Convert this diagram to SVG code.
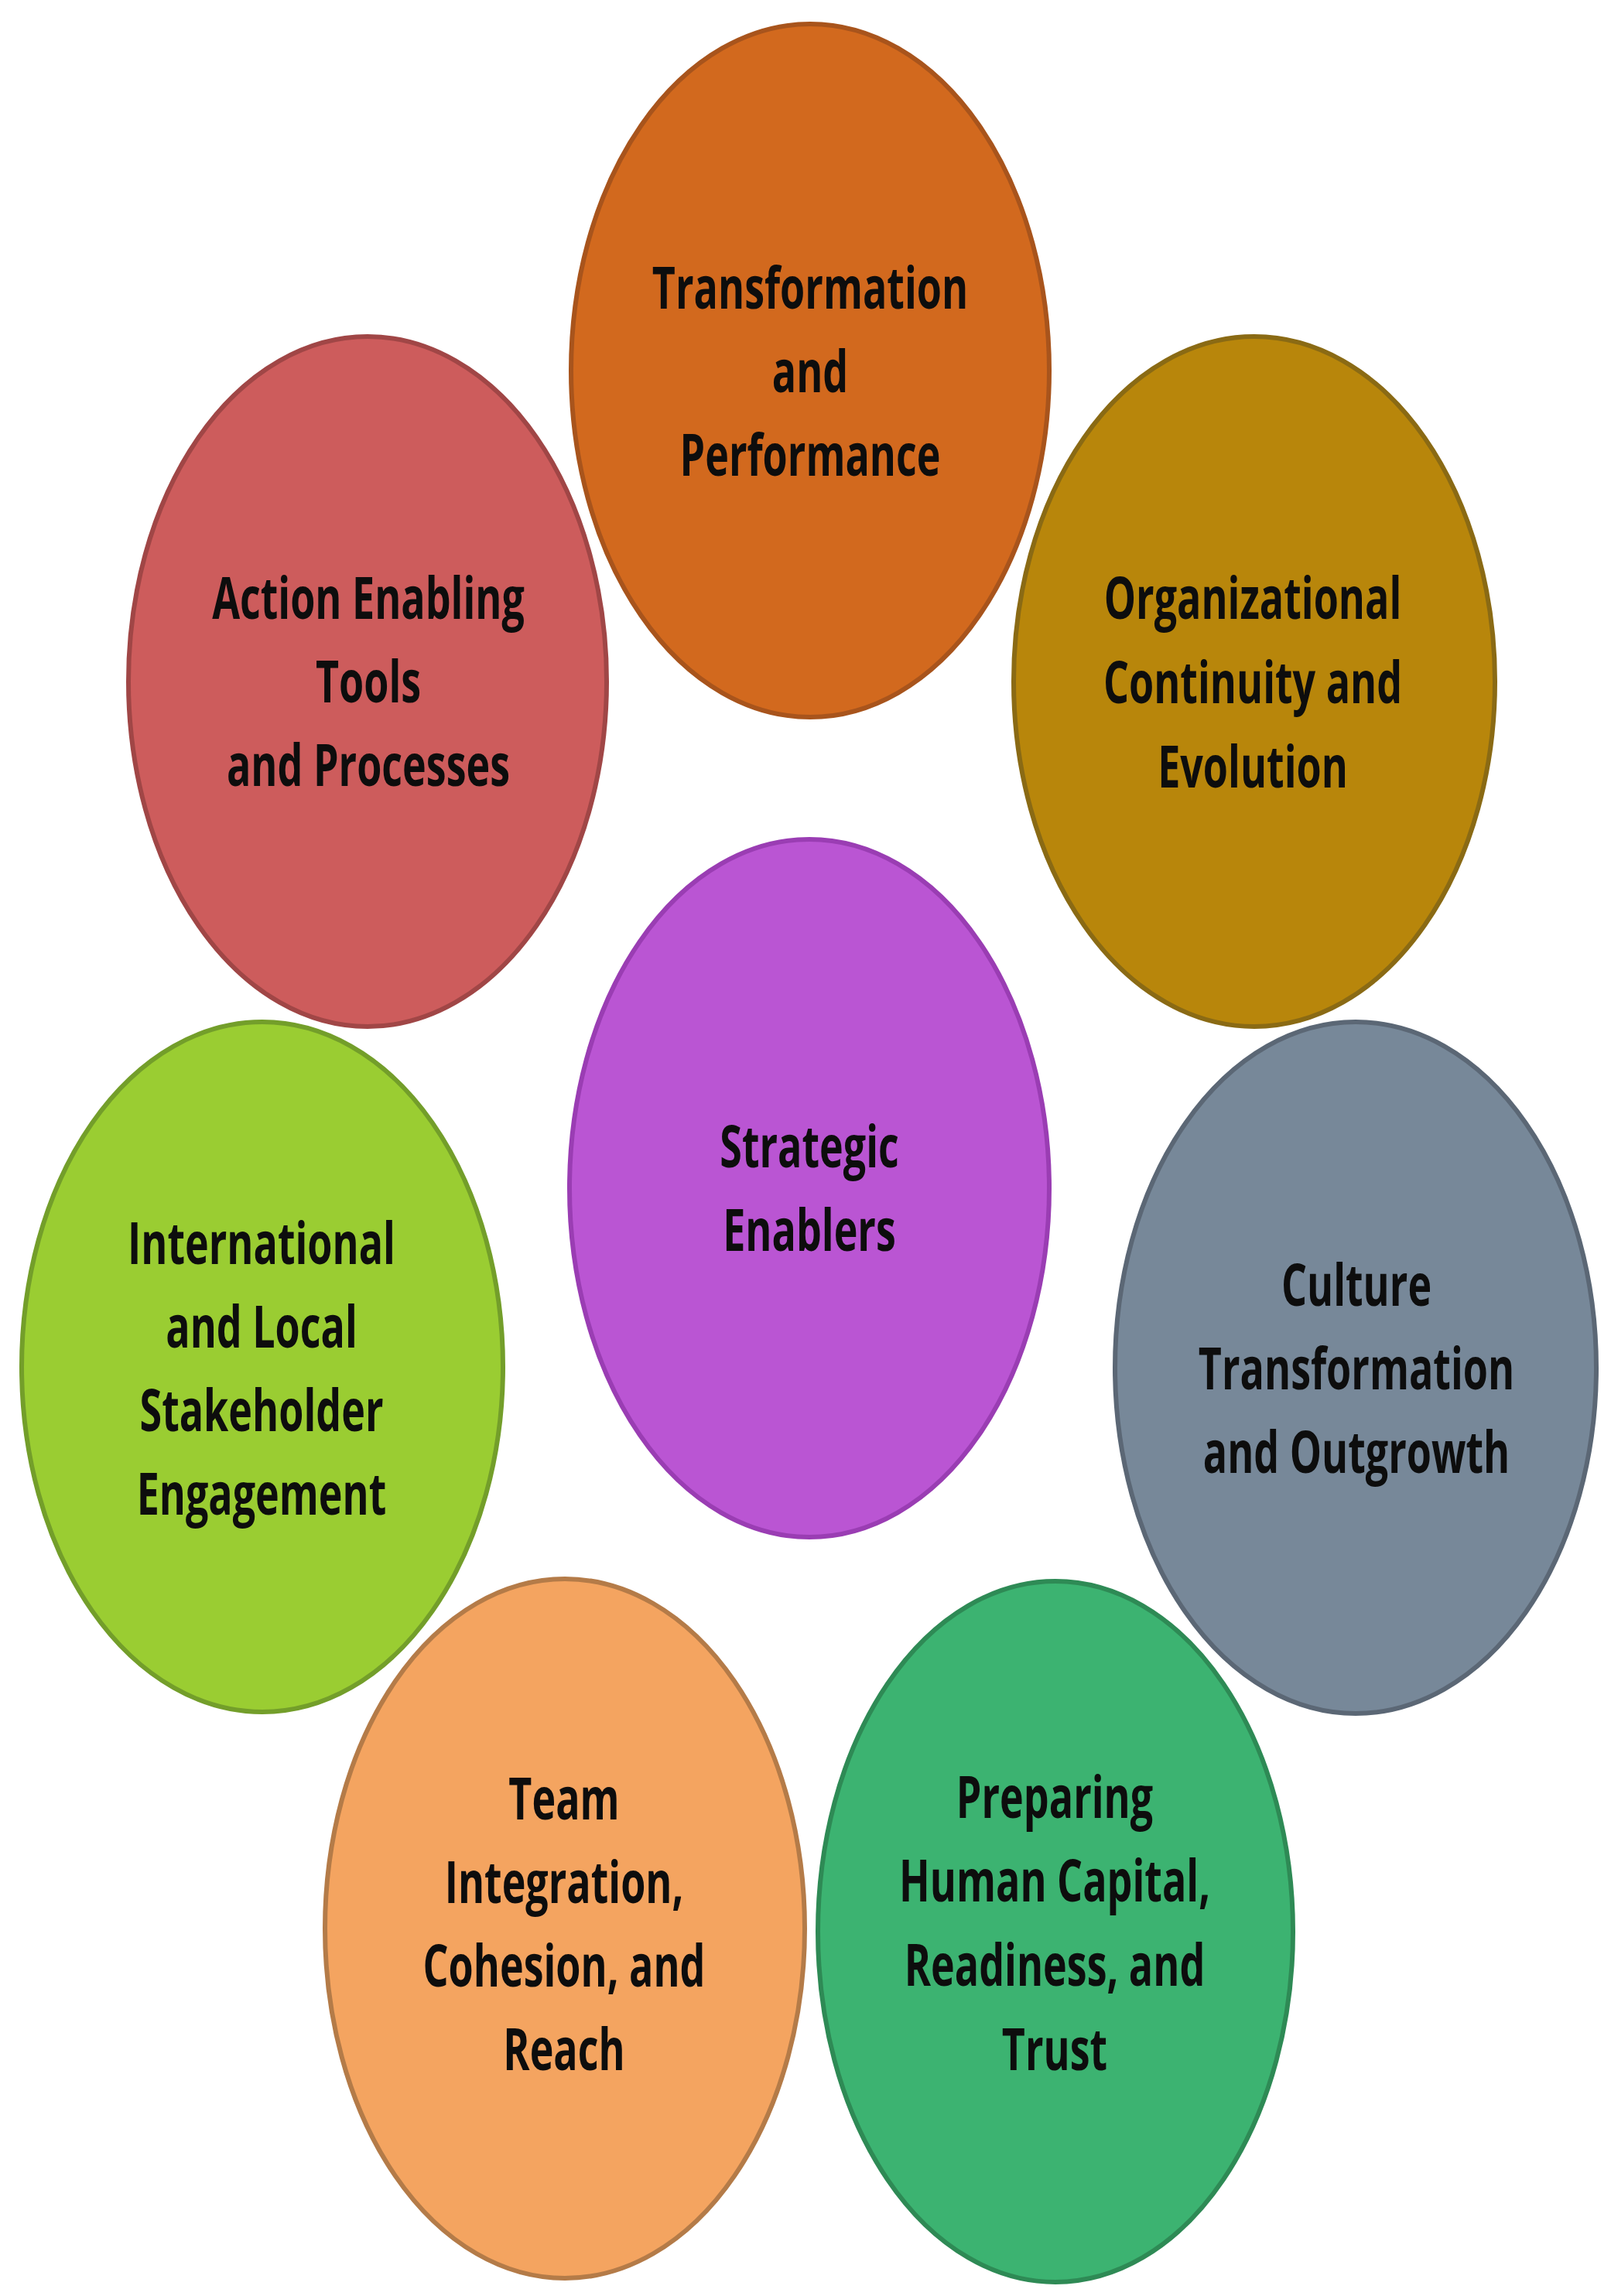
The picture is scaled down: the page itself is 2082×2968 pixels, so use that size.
<svg xmlns="http://www.w3.org/2000/svg" width="2082" height="2968" viewBox="0 0 2082 2968">
<style>
.node ellipse{stroke-width:6}
.lbl{font-family:"Open Sans","Noto Sans","Liberation Sans",sans-serif;font-weight:700;font-size:52px;fill:#0d0d0d;text-anchor:middle}
</style>
<rect width="2082" height="2968" fill="#ffffff"/>
<g id="connectors"/>
<g id="n-transformation" class="node">
<ellipse cx="1047" cy="479" rx="309" ry="448" fill="#D2691E" stroke="#A8541C"/>
<text class="lbl" transform="matrix(1,0,0,1.45,1047,399)">Transformation</text>
<text class="lbl" transform="matrix(1,0,0,1.45,1047,507)">and</text>
<text class="lbl" transform="matrix(1,0,0,1.45,1047,615)">Performance</text>
</g>
<g id="n-action" class="node">
<ellipse cx="475" cy="881" rx="309" ry="446" fill="#CD5C5C" stroke="#A04646"/>
<text class="lbl" transform="matrix(1,0,0,1.45,476,800)">Action Enabling</text>
<text class="lbl" transform="matrix(1,0,0,1.45,476,908)">Tools</text>
<text class="lbl" transform="matrix(1,0,0,1.45,476,1016)">and Processes</text>
</g>
<g id="n-organizational" class="node">
<ellipse cx="1621" cy="881" rx="311" ry="446" fill="#B8860B" stroke="#8A6A14"/>
<text class="lbl" transform="matrix(1,0,0,1.45,1619,800)">Organizational</text>
<text class="lbl" transform="matrix(1,0,0,1.45,1619,909)">Continuity and</text>
<text class="lbl" transform="matrix(1,0,0,1.45,1619,1018)">Evolution</text>
</g>
<g id="n-strategic" class="node">
<ellipse cx="1046" cy="1536" rx="310" ry="451" fill="#BA55D3" stroke="#9A3DB3"/>
<text class="lbl" transform="matrix(1,0,0,1.45,1046,1509)">Strategic</text>
<text class="lbl" transform="matrix(1,0,0,1.45,1046,1617)">Enablers</text>
</g>
<g id="n-international" class="node">
<ellipse cx="339" cy="1767" rx="311" ry="446" fill="#9ACD32" stroke="#739E2A"/>
<text class="lbl" transform="matrix(1,0,0,1.45,338,1634)">International</text>
<text class="lbl" transform="matrix(1,0,0,1.45,338,1742)">and Local</text>
<text class="lbl" transform="matrix(1,0,0,1.45,338,1850)">Stakeholder</text>
<text class="lbl" transform="matrix(1,0,0,1.45,338,1958)">Engagement</text>
</g>
<g id="n-culture" class="node">
<ellipse cx="1752" cy="1768" rx="311" ry="447" fill="#778899" stroke="#5B6775"/>
<text class="lbl" transform="matrix(1,0,0,1.45,1753,1688)">Culture</text>
<text class="lbl" transform="matrix(1,0,0,1.45,1753,1796)">Transformation</text>
<text class="lbl" transform="matrix(1,0,0,1.45,1753,1904)">and Outgrowth</text>
</g>
<g id="n-team" class="node">
<ellipse cx="730" cy="2493" rx="310" ry="452" fill="#F4A460" stroke="#B47B48"/>
<text class="lbl" transform="matrix(1,0,0,1.45,729,2352)">Team</text>
<text class="lbl" transform="matrix(1,0,0,1.45,729,2460)">Integration,</text>
<text class="lbl" transform="matrix(1,0,0,1.45,729,2568)">Cohesion, and</text>
<text class="lbl" transform="matrix(1,0,0,1.45,729,2676)">Reach</text>
</g>
<g id="n-preparing" class="node">
<ellipse cx="1364" cy="2497" rx="307" ry="453" fill="#3CB371" stroke="#2E8A55"/>
<text class="lbl" transform="matrix(1,0,0,1.45,1363,2350)">Preparing</text>
<text class="lbl" transform="matrix(1,0,0,1.45,1363,2458)">Human Capital,</text>
<text class="lbl" transform="matrix(1,0,0,1.45,1363,2567)">Readiness, and</text>
<text class="lbl" transform="matrix(1,0,0,1.45,1363,2676)">Trust</text>
</g>
</svg>
